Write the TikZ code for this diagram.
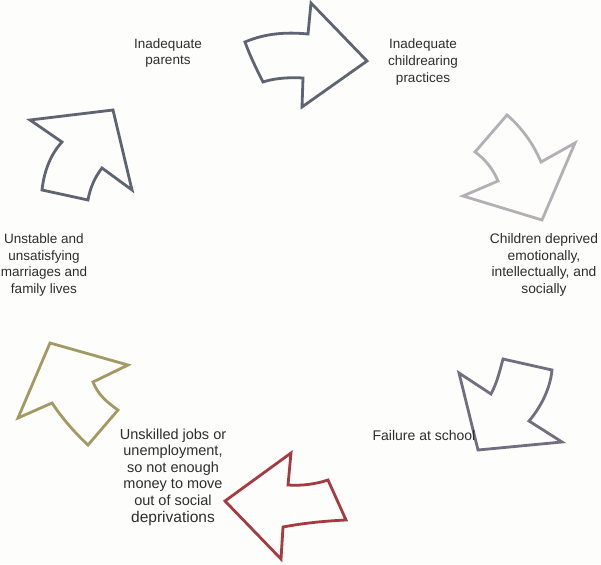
\documentclass[tikz,border=0pt]{standalone}
\usepackage{fontspec}
\setmainfont{Liberation Sans}
\definecolor{slate}{HTML}{5E6471}
\definecolor{lightgr}{HTML}{B3B0B5}
\definecolor{graypurp}{HTML}{726D7F}
\definecolor{darkred}{HTML}{A53A40}
\definecolor{olive}{HTML}{A39962}
\definecolor{txt}{HTML}{2E2E2E}
\definecolor{paper}{HTML}{FDFDFB}
\begin{document}
\begin{tikzpicture}[x=1pt,y=-1pt,
  arr/.style={line width=2.8pt, line join=miter},
  lbl/.style={align=center, text=txt, font=\fontsize{13.5}{16.8}\selectfont, inner sep=0pt}]
\fill[paper] (0,0) rectangle (601,564);
\useasboundingbox (0,0) rectangle (601,564);

% top arrow
\draw[arr, slate] (245,42) .. controls (266,33) and (287,32) .. (308,34) -- (311,3) -- (367,61)
  -- (302,107) -- (303,78) .. controls (285,77) and (272,79) .. (263,82)
  .. controls (256,68) and (250,56) .. (245,42) -- cycle;
% upper right arrow
\draw[arr, lightgr] (507,115) .. controls (521,127) and (533,143) .. (541,162) -- (575,143) -- (542,220)
  -- (463,196) -- (498,181) .. controls (493,169) and (485,159) .. (475,152) -- cycle;
% lower right arrow
\draw[arr, graypurp] (503,359) -- (552,370) .. controls (550,390) and (540,408) .. (529,421)
  -- (562,442) -- (478,450) -- (459,373) -- (491,394)
  .. controls (497,383) and (500,370) .. (503,359) -- cycle;
% bottom arrow
\draw[arr, darkred] (291,453) -- (288,485) .. controls (302,486) and (316,484) .. (328,480)
  -- (346,520) .. controls (325,521) and (304,523) .. (283,527) -- (281,559) -- (225,501) -- cycle;
% lower left arrow
\draw[arr, olive] (50,343) -- (128,365) -- (93,382) .. controls (98,395) and (108,403) .. (118,410)
  -- (88,445) .. controls (75,433) and (62,418) .. (52,403) -- (18,418) -- cycle;
% upper left arrow
\draw[arr, slate] (30,120) -- (113,110) -- (132,190) -- (102,168)
  .. controls (95,177) and (90,188) .. (88,200) -- (42,190)
  .. controls (44,172) and (50,155) .. (62,142) -- cycle;

\node[lbl] (parents) at (168,53) {Inadequate\\parents};
\node[lbl] (practices) at (423,62) {Inadequate\\childrearing\\practices};
\node[lbl, font=\fontsize{13.8}{16.5}\selectfont] (deprived) at (544,265) {Children deprived\\emotionally,\\intellectually, and\\socially};
\node[lbl, font=\fontsize{14}{17}\selectfont] (school) at (424,435) {Failure at school};
\node[lbl, font=\fontsize{14.5}{16.6}\selectfont] (jobs) at (173,477) {Unskilled jobs or\\unemployment,\\so not enough\\money to move\\out of social\\{\fontsize{15.5}{17}\selectfont deprivations}};
\node[lbl] (marriages) at (44,265) {Unstable and\\unsatisfying\\marriages and\\family lives};
\end{tikzpicture}
\end{document}
